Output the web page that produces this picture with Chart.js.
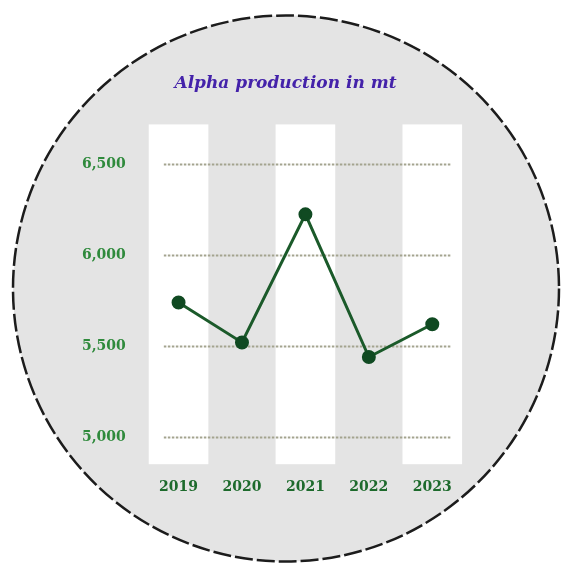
<!DOCTYPE html>
<html>
<head>
<meta charset="utf-8">
<script src="https://cdn.jsdelivr.net/npm/chart.js@4/dist/chart.umd.min.js"></script>
<style>
  html, body { margin: 0; padding: 0; background: #ffffff; }
  #wrap { width: 561px; height: 567px; }
</style>
</head>
<body>
<div id="wrap"><canvas id="chart" width="561" height="567"></canvas></div>
<script>
// Yearly alpha production, metric tonnes
const years = ['2019', '2020', '2021', '2022', '2023'];
const production = [5740, 5520, 6225, 5440, 5620];
const yTicks = [5000, 5500, 6000, 6500];
const titleText = 'Alpha production in mt';

// Round grey backdrop with a dashed rim, white bands behind alternate years,
// and dotted value guides drawn from the y scale.
const backdrop = {
  id: 'backdrop',
  beforeDraw(chart) {
    const { ctx, chartArea, scales } = chart;
    const cx = 286, cy = 288.5, r = 273;
    ctx.save();
    ctx.beginPath();
    ctx.arc(cx, cy, r, 0, Math.PI * 2);
    ctx.fillStyle = '#e4e4e4';
    ctx.fill();
    ctx.setLineDash([18, 4]);
    ctx.lineWidth = 2.5;
    ctx.strokeStyle = '#1c1c1c';
    ctx.stroke();
    ctx.setLineDash([]);

    const x = scales.x;
    const step = x.getPixelForValue(1) - x.getPixelForValue(0);
    const bw = step * 0.94;
    ctx.fillStyle = '#ffffff';
    years.forEach((_, i) => {
      if (i % 2 === 0) {
        const px = x.getPixelForValue(i);
        ctx.fillRect(px - bw / 2, chartArea.top, bw, chartArea.bottom - chartArea.top);
      }
    });

    const y = scales.y;
    ctx.setLineDash([2.5, 1.5]);
    ctx.lineWidth = 2;
    ctx.strokeStyle = '#a4a48f';
    yTicks.forEach(v => {
      const py = Math.round(y.getPixelForValue(v)) + 0.5;
      ctx.beginPath();
      ctx.moveTo(chartArea.left + 17, py);
      ctx.lineTo(chartArea.right - 13, py);
      ctx.stroke();
    });
    ctx.restore();
  },
  afterLayout(chart) {
    const t = chart.titleBlock;
    if (t) { t.left += 23; t.right += 23; }
  }
};

new Chart(document.getElementById('chart'), {
  type: 'line',
  data: {
    labels: years,
    datasets: [{
      data: production,
      borderColor: '#1b5a2a',
      borderWidth: 3,
      pointRadius: 5.5,
      pointBackgroundColor: '#104a22',
      pointBorderColor: '#104a22',
      tension: 0
    }]
  },
  options: {
    responsive: false,
    animation: false,
    layout: { padding: { left: 61, right: 97, top: 73, bottom: 56 } },
    plugins: {
      legend: { display: false },
      tooltip: { enabled: false },
      title: {
        display: true,
        text: titleText,
        color: '#4422aa',
        font: { family: 'DejaVu Serif', size: 17, style: 'italic', weight: 'bold' },
        padding: { top: 0, bottom: 31 }
      }
    },
    scales: {
      x: {
        offset: true,
        grid: { display: false, drawTicks: false },
        border: { display: false },
        ticks: {
          color: '#1d6a2c',
          padding: 15,
          font: { family: 'DejaVu Serif', size: 14, weight: 'bold' }
        }
      },
      y: {
        min: 4850,
        max: 6720,
        afterBuildTicks(scale) { scale.ticks = yTicks.map(v => ({ value: v })); },
        grid: { display: false, drawTicks: false },
        border: { display: false },
        ticks: {
          color: '#2f8a3c',
          padding: 21,
          font: { family: 'DejaVu Serif', size: 14, weight: 'bold' },
          callback: v => v.toLocaleString('en-US')
        }
      }
    }
  },
  plugins: [backdrop]
});
</script>
</body>
</html>
